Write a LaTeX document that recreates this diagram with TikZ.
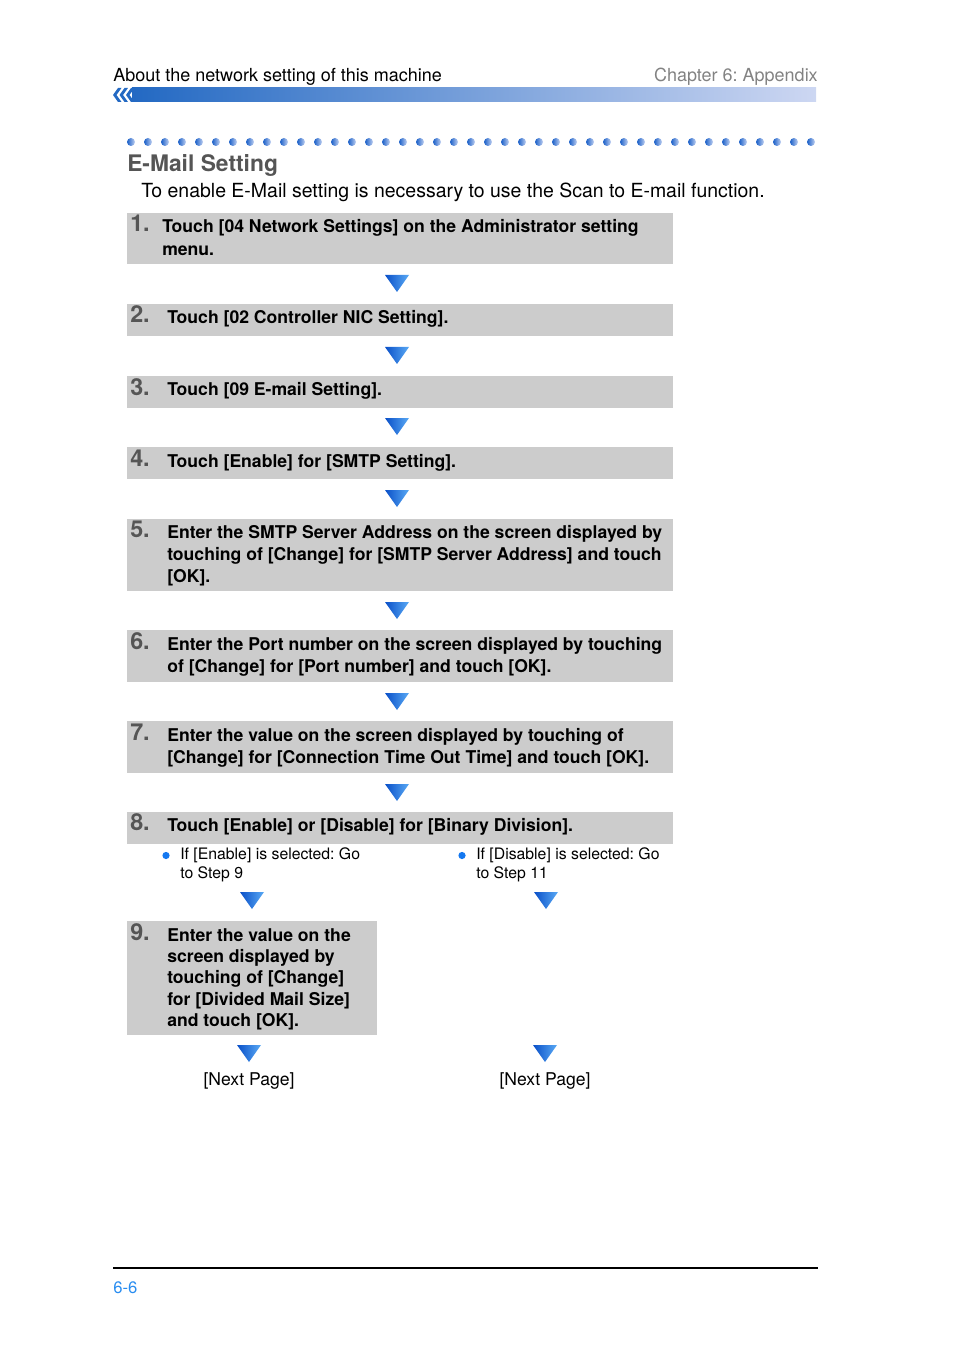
\documentclass[tikz,border=0pt]{standalone}
\usepackage{fontspec}
\setmainfont{TeX Gyre Heros}
\frenchspacing
\definecolor{boxgray}{RGB}{204,204,204}
\definecolor{numgray}{RGB}{85,85,85}
\definecolor{hdblue}{RGB}{35,105,195}
\definecolor{hdlight}{RGB}{205,215,242}
\definecolor{dotdark}{RGB}{25,95,200}
\definecolor{dotlight}{RGB}{195,210,242}
\definecolor{tridark}{RGB}{10,80,200}
\definecolor{trilight}{RGB}{90,170,245}
\definecolor{bulletblue}{RGB}{20,120,240}
\definecolor{pageblue}{RGB}{40,140,240}
\definecolor{titlegray}{RGB}{85,85,85}
\definecolor{chapgray}{RGB}{130,130,130}
\newcommand{\tridown}[2]{\shade[left color=tridark, right color=trilight] (#1-12,#2) -- (#1+12,#2) -- (#1,#2+17) -- cycle;}
\tikzset{
  steptext/.style={anchor=base west, inner sep=0pt, font=\fontsize{13.2}{16.6}\selectfont\bfseries},
  stepnum/.style={anchor=base west, inner sep=0pt, text=numgray, font=\fontsize{17.5}{16}\selectfont\bfseries},
  bullettext/.style={anchor=base west, inner sep=0pt, font=\fontsize{11.85}{14.6}\selectfont},
  plaintext/.style={anchor=base west, inner sep=0pt, font=\fontsize{13.5}{16}\selectfont},
  boxfill/.style={fill=boxgray},
}
\newcommand{\steplines}[1]{\parbox[t]{430pt}{\raggedright #1}}
\begin{document}
\begin{tikzpicture}[x=0.75pt,y=-0.75pt]
\useasboundingbox (0,0) rectangle (954,1351);
% header
\node[plaintext] (hdr) at (113,81.5) {About the network setting of this machine};
\node[plaintext, anchor=base east, text=chapgray] (chap) at (818,81.5) {Chapter 6: Appendix};
\shade[left color=hdblue, right color=hdlight] (132,88) rectangle (816,102);
\foreach \cx in {113,119.5,126} {
  \fill[hdblue] (\cx,95) -- (\cx+5,88) -- (\cx+8.5,88) -- (\cx+3.5,95) -- (\cx+8.5,102) -- (\cx+5,102) -- cycle;
}
% dotted rule
\foreach \i in {0,...,40} {
  \shade[left color=dotdark, right color=dotlight] ({131+17*\i},142) circle (4);
}
\node[anchor=base west, inner sep=0pt, text=titlegray, font=\fontsize{17.1}{20}\selectfont\bfseries] (title) at (127,172) {E-Mail Setting};
\node[plaintext, font=\fontsize{14.6}{17}\selectfont] (intro) at (141,198) {To enable E-Mail setting is necessary to use the Scan to E-mail function.};

% step boxes
\fill[boxfill] (127,213) rectangle (673,264);
\fill[boxfill] (127,304) rectangle (673,336);
\fill[boxfill] (127,376) rectangle (673,408);
\fill[boxfill] (127,447) rectangle (673,479);
\fill[boxfill] (127,519) rectangle (673,591);
\fill[boxfill] (127,630) rectangle (673,682);
\fill[boxfill] (127,721) rectangle (673,773);
\fill[boxfill] (127,812) rectangle (673,844);
\fill[boxfill] (127,921) rectangle (377,1035);

% numbers
\node[stepnum] (n1) at (130,232) {1.};
\node[stepnum] (n2) at (130,323) {2.};
\node[stepnum] (n3) at (130,395) {3.};
\node[stepnum] (n4) at (130,466) {4.};
\node[stepnum] (n5) at (130,537) {5.};
\node[stepnum] (n6) at (130,649) {6.};
\node[stepnum] (n7) at (130,740) {7.};
\node[stepnum] (n8) at (130,830) {8.};
\node[stepnum] (n9) at (130,940) {9.};

% step texts
\node[steptext] (t1) at (162,233) {\steplines{Touch [04 Network Settings] on the Administrator setting\\menu.}};
\node[steptext] (t2) at (167,324) {Touch [02 Controller NIC Setting].};
\node[steptext] (t3) at (167,396) {Touch [09 E-mail Setting].};
\node[steptext] (t4) at (167,467) {Touch [Enable] for [SMTP Setting].};
\node[steptext] (t5) at (167,538) {\steplines{Enter the SMTP Server Address on the screen displayed by\\touching of [Change] for [SMTP Server Address] and touch\\{}[OK].}};
\node[steptext] (t6) at (167,650) {\steplines{Enter the Port number on the screen displayed by touching\\of [Change] for [Port number] and touch [OK].}};
\node[steptext] (t7) at (167,741) {\steplines{Enter the value on the screen displayed by touching of\\{}[Change] for [Connection Time Out Time] and touch [OK].}};
\node[steptext] (t8) at (167,831) {Touch [Enable] or [Disable] for [Binary Division].};
\node[steptext, font=\fontsize{13.2}{16}\selectfont\bfseries] (t9) at (167,941) {\steplines{Enter the value on the\\screen displayed by\\touching of [Change]\\for [Divided Mail Size]\\and touch [OK].}};

% arrows
\tridown{397}{275}
\tridown{397}{347}
\tridown{397}{418}
\tridown{397}{490}
\tridown{397}{602}
\tridown{397}{693}
\tridown{397}{784}
\tridown{252}{892}
\tridown{546}{892}
\tridown{249}{1045}
\tridown{545}{1045}

% bullets
\fill[bulletblue] (166,855.5) circle (3.6);
\fill[bulletblue] (462,855.5) circle (3.6);
\node[bullettext] (b1) at (180,859) {\parbox[t]{200pt}{If [Enable] is selected: Go\\to Step 9}};
\node[bullettext] (b2) at (476,859) {\parbox[t]{200pt}{If [Disable] is selected: Go\\to Step 11}};

% next page
\node[plaintext, anchor=base, font=\fontsize{13.2}{16}\selectfont] (np1) at (249,1085) {[Next Page]};
\node[plaintext, anchor=base, font=\fontsize{13.2}{16}\selectfont] (np2) at (545,1085) {[Next Page]};

% footer
\coordinate (fl) at (113,1268);
\coordinate (fr) at (818,1268);
\draw[line width=0.9pt] (fl) -- (fr);
\node[plaintext, text=pageblue, font=\fontsize{12.5}{15}\selectfont] (pg) at (113,1293) {6-6};
\end{tikzpicture}
\end{document}
